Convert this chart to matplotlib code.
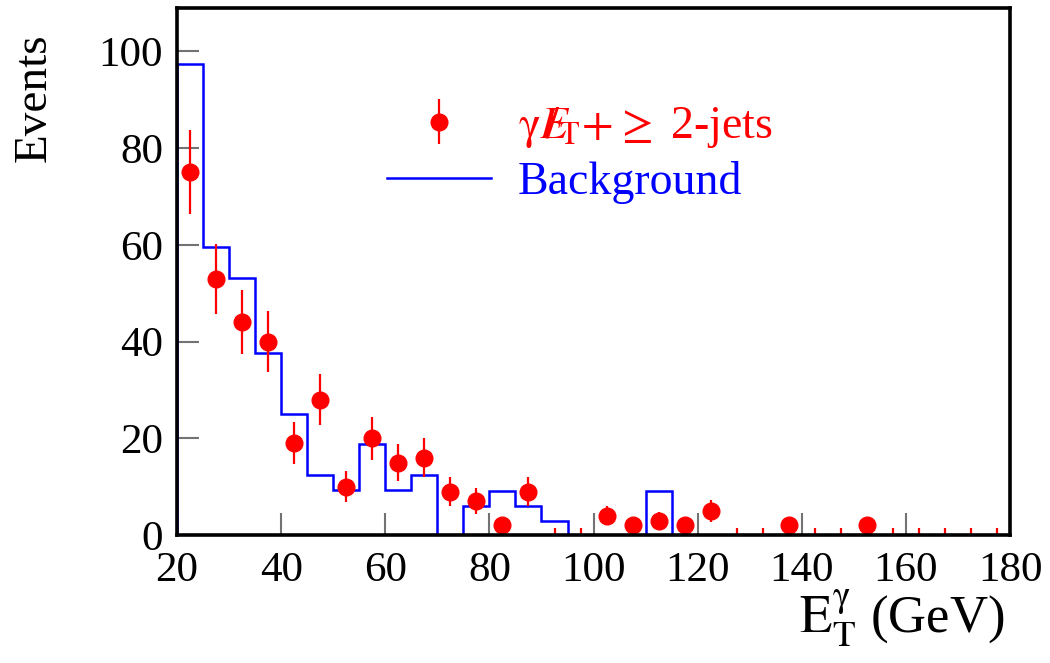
import numpy as np
import matplotlib
matplotlib.use('Agg')
from matplotlib import pyplot as plt
from matplotlib.lines import Line2D

plt.rcParams['font.family'] = ['Liberation Serif', 'DejaVu Serif']
plt.rcParams['mathtext.fontset'] = 'stix'

# binning of the histogram (GeV)
edges = np.arange(20, 185, 5)
centers = edges[:-1] + 2.5

# expected background per bin
background = [97.4, 59.6, 53.2, 37.6, 25.0, 12.4, 9.3, 18.8, 9.3, 12.4,
              0, 6.0, 9.2, 6.0, 3.0, 0, 0, 0, 9.2, 0,
              0, 0, 0, 0, 0, 0, 0, 0, 0, 0, 0, 0]

# observed events per bin
observed = [75, 53, 44, 40, 19, 28, 10, 20, 15, 16,
            9, 7, 2, 9, 0, 0, 4, 2, 3, 2,
            5, 0, 0, 2, 0, 0, 2, 0, 0, 0, 0, 0]

xticks = [20, 40, 60, 80, 100, 120, 140, 160, 180]
yticks = [0, 20, 40, 60, 80, 100]

obs = np.array(observed, dtype=float)
err = np.sqrt(obs)

fig = plt.figure(figsize=(10.5, 6.63), dpi=100)
ax = fig.add_axes([0.1686, 0.193, 0.7934, 0.795])

ax.stairs(background, edges, color='blue', linewidth=1.8, zorder=3)

nz = obs > 0
data = ax.errorbar(centers[nz], obs[nz], yerr=err[nz], fmt='o', color='red',
                   ms=12, elinewidth=1.6, capsize=0, zorder=4)
# empty bins get a small stub like in the original
ax.vlines(centers[~nz], 0, 1.5, color='red', linewidth=1.6, zorder=4)

ax.set_xlim(20, 180)
ax.set_ylim(0, 109)
ax.set_xticks(xticks)
ax.set_yticks(yticks)
ax.tick_params(direction='in', length=16, width=1.5, color='0.45',
               labelsize=31, pad=10, top=False, right=False)
ax.tick_params(axis='x', pad=12)
for s in ax.spines.values():
    s.set_linewidth(2.6)
    s.set_zorder(5)

ax.set_ylabel('Events', fontsize=34)
ax.yaxis.set_label_coords(-0.146, 0.83)
ax.set_xlabel(r'$\mathrm{E}_{\mathrm{T}}^{\mathrm{\gamma}}$ (GeV)', fontsize=38,
              ha='right')
ax.xaxis.set_label_coords(0.994, -0.1)

h_bkg = Line2D([], [], color='blue', linewidth=1.8)
leg = ax.legend([data, h_bkg],
                [r'$\mathrm{\gamma}E\!\!\!\!/_{\mathrm{T}}\!+\!\geq$ 2-jets', 'Background'],
                loc='upper left', bbox_to_anchor=(0.203, 0.895), frameon=False,
                fontsize=33, handlelength=2.25, handletextpad=0.6,
                labelspacing=0.25)
leg.get_texts()[0].set_color('red')
leg.get_texts()[1].set_color('blue')

fig.savefig('out.png', dpi=100)
